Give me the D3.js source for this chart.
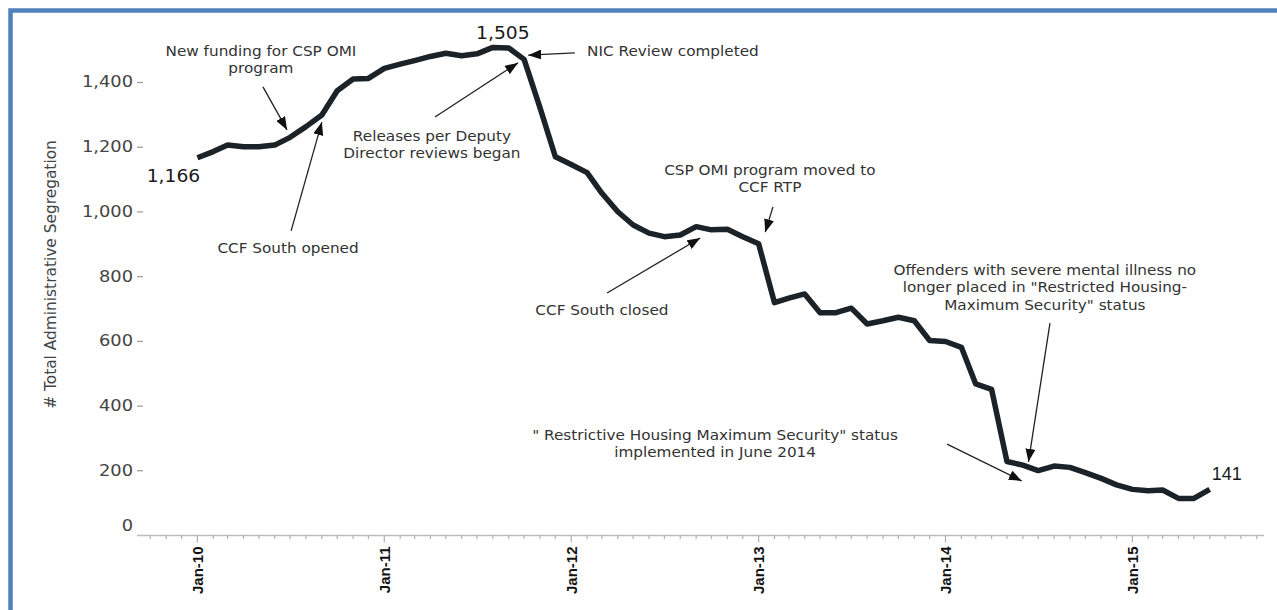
<!DOCTYPE html>
<html>
<head>
<meta charset="utf-8">
<script src="https://cdn.jsdelivr.net/npm/d3@7"></script>
<style>
  html, body { margin: 0; padding: 0; background: #fff; overflow: hidden; }
  svg { display: block; }
</style>
</head>
<body>
<script>
// ---- Data ----
const startMonth = "2010-01";
const monthCount = 66; // Jan-2010 .. Jun-2015
const values = [
  1166, 1185, 1205, 1200, 1200, 1205, 1229, 1262, 1298, 1373, 1409, 1411,
  1442, 1455, 1466, 1479, 1489, 1481, 1487, 1507, 1505, 1470, 1321, 1169,
  1145, 1120, 1056, 999, 958, 933, 922, 927, 953, 943, 945, 922,
  900, 718, 732, 745, 687, 687, 701, 652, 662, 673, 662, 601,
  598, 580, 467, 450, 227, 216, 199, 213, 209, 193, 175, 155,
  141, 137, 139, 113, 113, 141
];
const yTicks = [0, 200, 400, 600, 800, 1000, 1200, 1400];
const yTickLabels = ["0", "200", "400", "600", "800", "1,000", "1,200", "1,400"];
const xTickLabels = ["Jan-10", "Jan-11", "Jan-12", "Jan-13", "Jan-14", "Jan-15"];
const pointLabels = [
  { index: 0, text: "1,166" },
  { index: 19, text: "1,505" },
  { index: 65, text: "141" }
];
// annotations: positions in data space (days after Jan 1 2010, value)
const annotations = [
  { lines: ["New funding for CSP OMI", "program"], at: [124, 1496], anchor: "middle",
    tail: [128, 1385], tip: [175, 1252] },
  { lines: ["CCF South opened"], at: [177, 887], anchor: "middle",
    tail: [183, 940], tip: [243, 1276] },
  { lines: ["Releases per Deputy", "Director reviews began"], at: [458, 1233], anchor: "middle",
    tail: [464, 1292], tip: [626, 1459] },
  { lines: ["NIC Review completed"], at: [761, 1496], anchor: "start",
    tail: [737, 1490], tip: [646, 1483] },
  { lines: ["CSP OMI program moved to", "CCF RTP"], at: [1118, 1128], anchor: "middle",
    tail: [1124, 1014], tip: [1109, 936] },
  { lines: ["CCF South closed"], at: [790, 695], anchor: "middle",
    tail: [800, 748], tip: [982, 918] },
  { lines: ["Offenders with severe mental illness no", "longer placed in \"Restricted Housing-", "Maximum Security\" status"],
    at: [1655, 819], anchor: "middle",
    tail: [1665, 655], tip: [1623, 226] },
  { lines: ["\" Restrictive Housing Maximum Security\" status", "implemented in June 2014"],
    at: [1011, 309], anchor: "middle",
    tail: [1464, 281], tip: [1610, 167] }
];

// ---- Setup ----
const W = 1277, H = 610;
const STRETCH = 1.15; // reference text is horizontally widened
const svg = d3.select("body").append("svg").attr("width", W).attr("height", H);

function widen(sel, k) {
  sel.each(function () {
    const w = this.getComputedTextLength();
    d3.select(this).attr("textLength", w * k).attr("lengthAdjust", "spacingAndGlyphs");
  });
}

const months = d3.timeMonth.range(d3.timeParse("%Y-%m")(startMonth),
  d3.timeMonth.offset(d3.timeParse("%Y-%m")(startMonth), monthCount));
const data = months.map((d, i) => ({ date: d, value: values[i] }));

const x = d3.scaleTime()
  .domain([new Date(2009, 8, 5), new Date(2015, 8, 15)])
  .range([137, 1264]);
const y = d3.scaleLinear().domain([0, 1400]).range([535, 82]);
const base = new Date(2010, 0, 1);
const px = p => [x(d3.timeDay.offset(base, p[0])), y(p[1])];

// frame
svg.append("rect")
  .attr("x", 10.5).attr("y", 10.5)
  .attr("width", 1300).attr("height", 640)
  .attr("fill", "none").attr("stroke", "#4f81bd").attr("stroke-width", 4.5);

// x axis
const xAxisG = svg.append("g").attr("transform", `translate(0,${y(0) + 0.5})`);
xAxisG.append("line")
  .attr("x1", x.range()[0]).attr("x2", x.range()[1])
  .attr("stroke", "#bdbdbd").attr("stroke-width", 1.5);
const minor = d3.timeMonth.range(x.domain()[0], x.domain()[1]);
xAxisG.selectAll("line.minor").data(minor).join("line")
  .attr("class", "minor")
  .attr("x1", d => x(d)).attr("x2", d => x(d))
  .attr("y1", 0).attr("y2", d => d.getMonth() === 0 ? 7 : 3.5)
  .attr("stroke", "#b0b0b0").attr("stroke-width", 1.2);
const years = d3.timeYear.range(new Date(2010, 0, 1), new Date(2015, 1, 1));
xAxisG.selectAll("text.xl").data(years).join("text")
  .attr("class", "xl")
  .attr("transform", d => `translate(${x(d)},11) rotate(-90)`)
  .attr("text-anchor", "end")
  .attr("dy", "0.36em")
  .attr("font-family", "'Liberation Sans', Arial, sans-serif")
  .attr("font-weight", "bold")
  .attr("font-size", 15)
  .attr("fill", "#111")
  .text((d, i) => xTickLabels[i]);

// y axis
const yAxis = d3.axisLeft(y).tickValues(yTicks).tickSize(6).tickPadding(4)
  .tickFormat((d, i) => yTickLabels[i]);
const yAxisG = svg.append("g").attr("transform", "translate(143,0)").call(yAxis);
yAxisG.select(".domain").remove();
yAxisG.selectAll(".tick line").attr("stroke", "#999").attr("stroke-width", 1.2);
yAxisG.selectAll(".tick text")
  .attr("font-family", "'DejaVu Sans', sans-serif")
  .attr("font-size", 15.5)
  .attr("fill", "#444")
  .call(widen, STRETCH);
yAxisG.selectAll(".tick").filter(d => d === 0)
  .each(function () {
    d3.select(this).select("line").remove();
    d3.select(this).select("text").attr("y", -9);
  });

// y axis title
svg.append("text")
  .attr("transform", `translate(51,${(y(0) + y(1400)) / 2 - 34}) rotate(-90)`)
  .attr("text-anchor", "middle")
  .attr("dy", "0.35em")
  .attr("font-family", "'DejaVu Sans', sans-serif")
  .attr("font-size", 15.4)
  .attr("fill", "#444")
  .text("# Total Administrative Segregation");

// line
const line = d3.line().x(d => x(d.date)).y(d => y(d.value));
svg.append("path").datum(data)
  .attr("d", line)
  .attr("fill", "none")
  .attr("stroke", "#1b2228")
  .attr("stroke-width", 5.5)
  .attr("stroke-linejoin", "round");

// point labels
const plOff = { 0: [-24, 24, "middle", "'DejaVu Sans', sans-serif", 17],
                19: [10, -8, "middle", "'DejaVu Sans', sans-serif", 17],
                65: [2, -9, "start", "'Liberation Sans', Arial, sans-serif", 18] };
svg.selectAll("text.pl").data(pointLabels).join("text")
  .attr("class", "pl")
  .attr("x", d => x(data[d.index].date) + plOff[d.index][0])
  .attr("y", d => y(data[d.index].value) + plOff[d.index][1])
  .attr("text-anchor", d => plOff[d.index][2])
  .attr("font-family", d => plOff[d.index][3])
  .attr("font-size", d => plOff[d.index][4])
  .attr("fill", "#1a1a1a")
  .text(d => d.text)
  .filter(d => d.index !== 65)
  .call(widen, 1.1);

// arrow marker
svg.append("defs").append("marker")
  .attr("id", "ah").attr("viewBox", "0 0 13 10")
  .attr("refX", 13).attr("refY", 5)
  .attr("markerWidth", 13).attr("markerHeight", 10)
  .attr("markerUnits", "userSpaceOnUse")
  .attr("orient", "auto")
  .append("path").attr("d", "M0,0 L13,5 L0,10 Z").attr("fill", "#111");

const ann = svg.append("g");
annotations.forEach(a => {
  const [tx, ty] = px(a.at);
  a.lines.forEach((l, i) => {
    ann.append("text")
      .attr("x", tx).attr("y", ty + i * 17.6).attr("dy", "0.35em")
      .attr("text-anchor", a.anchor)
      .attr("font-family", "'DejaVu Sans', sans-serif")
      .attr("font-size", 13.5)
      .attr("fill", "#333")
      .text(l)
      .call(widen, 1.13);
  });
  const [x1, y1] = px(a.tail), [x2, y2] = px(a.tip);
  ann.append("line")
    .attr("x1", x1).attr("y1", y1).attr("x2", x2).attr("y2", y2)
    .attr("stroke", "#222").attr("stroke-width", 1.3)
    .attr("marker-end", "url(#ah)");
});
</script>
</body>
</html>
